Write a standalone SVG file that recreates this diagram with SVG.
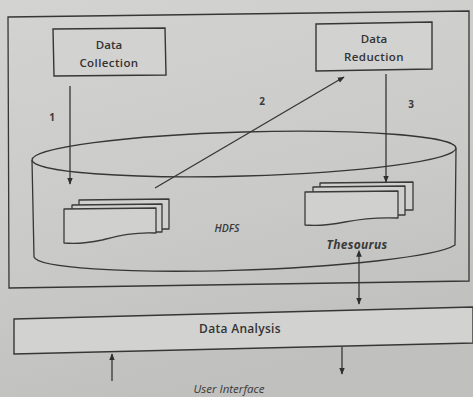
<svg xmlns="http://www.w3.org/2000/svg" width="473" height="397" viewBox="0 0 473 397">
  <defs>
    <linearGradient id="bg" x1="0" y1="0" x2="0.3" y2="1">
      <stop offset="0" stop-color="#d3d3d1"/>
      <stop offset="0.6" stop-color="#cacac8"/>
      <stop offset="1" stop-color="#c0c0be"/>
    </linearGradient>
    <marker id="ah" viewBox="0 0 10 10" refX="9" refY="5" markerWidth="7" markerHeight="7" orient="auto" markerUnits="userSpaceOnUse">
      <path d="M0,1 L10,5 L0,9 Z" fill="#2e2e2e"/>
    </marker>
    <marker id="ahs" viewBox="0 0 10 10" refX="1" refY="5" markerWidth="7" markerHeight="7" orient="auto-start-reverse" markerUnits="userSpaceOnUse">
      <path d="M0,1 L10,5 L0,9 Z" fill="#2e2e2e"/>
    </marker>
  </defs>
  <style>
    .ln { fill: none; stroke: #363636; stroke-width: 1.3; }
    .box { fill: #d2d2d0; stroke: #363636; stroke-width: 1.4; }
    .doc { fill: #d0d0ce; stroke: #3a3a3a; stroke-width: 1.3; stroke-linejoin: round; }
    .t { font-family: "Open Sans", "Liberation Sans", sans-serif; font-weight: 600; fill: #333; text-anchor: middle; }
    .num { font-family: "Open Sans", "Liberation Sans", sans-serif; font-weight: 700; font-size: 10px; fill: #3a3a3a; text-anchor: middle; }
    .it { font-family: "Open Sans", "Liberation Sans", sans-serif; font-style: italic; fill: #3a3a3a; text-anchor: middle; }
  </style>
  <rect width="473" height="397" fill="url(#bg)"/>

  <g id="outer-frame">
    <path class="ln" d="M8,17 L469,11 L469,281 L9,288 Z" stroke-width="1.6"/>
  </g>

  <g id="data-collection">
    <path class="box" d="M53,29 L165,28 L166,75 L54,76 Z"/>
    <text class="t" x="109" y="49" font-size="11.5">Data</text>
    <text class="t" x="109" y="67" font-size="11.5" letter-spacing="0.4">Collection</text>
  </g>

  <g id="data-reduction">
    <path class="box" d="M316,24 L432,22 L432,69 L316,71 Z"/>
    <text class="t" x="374" y="43" font-size="11.5">Data</text>
    <text class="t" x="374" y="61" font-size="11.5" letter-spacing="0.4">Reduction</text>
  </g>

  <g id="hdfs">
    <path class="ln" d="M32,160 L34,257 A212 21 -2 0 0 455,245 L456,148"/>
    <ellipse class="ln" cx="244" cy="154" rx="212" ry="22" transform="rotate(-1.6 244 154)"/>
    <path class="doc" d="M79,200 L169,199 L169,229 L79,229 Z"/>
    <path class="doc" d="M72,205 L162,204 L162,232 L72,232 Z"/>
    <path class="doc" d="M64,209 L156,208 L156,233 C132,232 118,236 102,240 C88,243 74,244 64,243 Z"/>
    <text class="it" x="227" y="232" font-size="10.5" font-weight="600">HDFS</text>
  </g>

  <g id="thesourus">
    <path class="doc" d="M320,183 L413,182 L413,210 L320,210 Z"/>
    <path class="doc" d="M313,187 L405,186 L405,215 L313,215 Z"/>
    <path class="doc" d="M305,192 L398,191 L398,218 C375,217 360,219 345,222 C330,225 315,226 305,225 Z"/>
    <text class="it" x="357" y="249" font-size="12" font-weight="700" letter-spacing="0.3">Thesourus</text>
  </g>

  <g id="data-analysis">
    <path class="box" d="M14,319 L473,307 L473,343 L14,354 Z"/>
    <text class="t" x="240" y="333" font-size="12" letter-spacing="0.3">Data Analysis</text>
  </g>

  <g id="user-interface">
    <text class="it" x="229" y="393" font-size="11.5">User Interface</text>
  </g>

  <g id="connectors">
    <line class="ln" x1="70" y1="86" x2="70" y2="184" marker-end="url(#ah)"/>
    <text class="num" x="52" y="121">1</text>
    <line class="ln" x1="155" y1="188" x2="344" y2="77" marker-end="url(#ah)"/>
    <text class="num" x="262" y="105">2</text>
    <line class="ln" x1="386" y1="74" x2="386" y2="182" marker-end="url(#ah)"/>
    <text class="num" x="411" y="108">3</text>
    <line class="ln" x1="359" y1="256" x2="359" y2="304" marker-start="url(#ahs)" marker-end="url(#ah)"/>
    <line class="ln" x1="112" y1="381" x2="112" y2="354" marker-end="url(#ah)"/>
    <line class="ln" x1="342" y1="347" x2="342" y2="374" marker-end="url(#ah)"/>
  </g>
</svg>
